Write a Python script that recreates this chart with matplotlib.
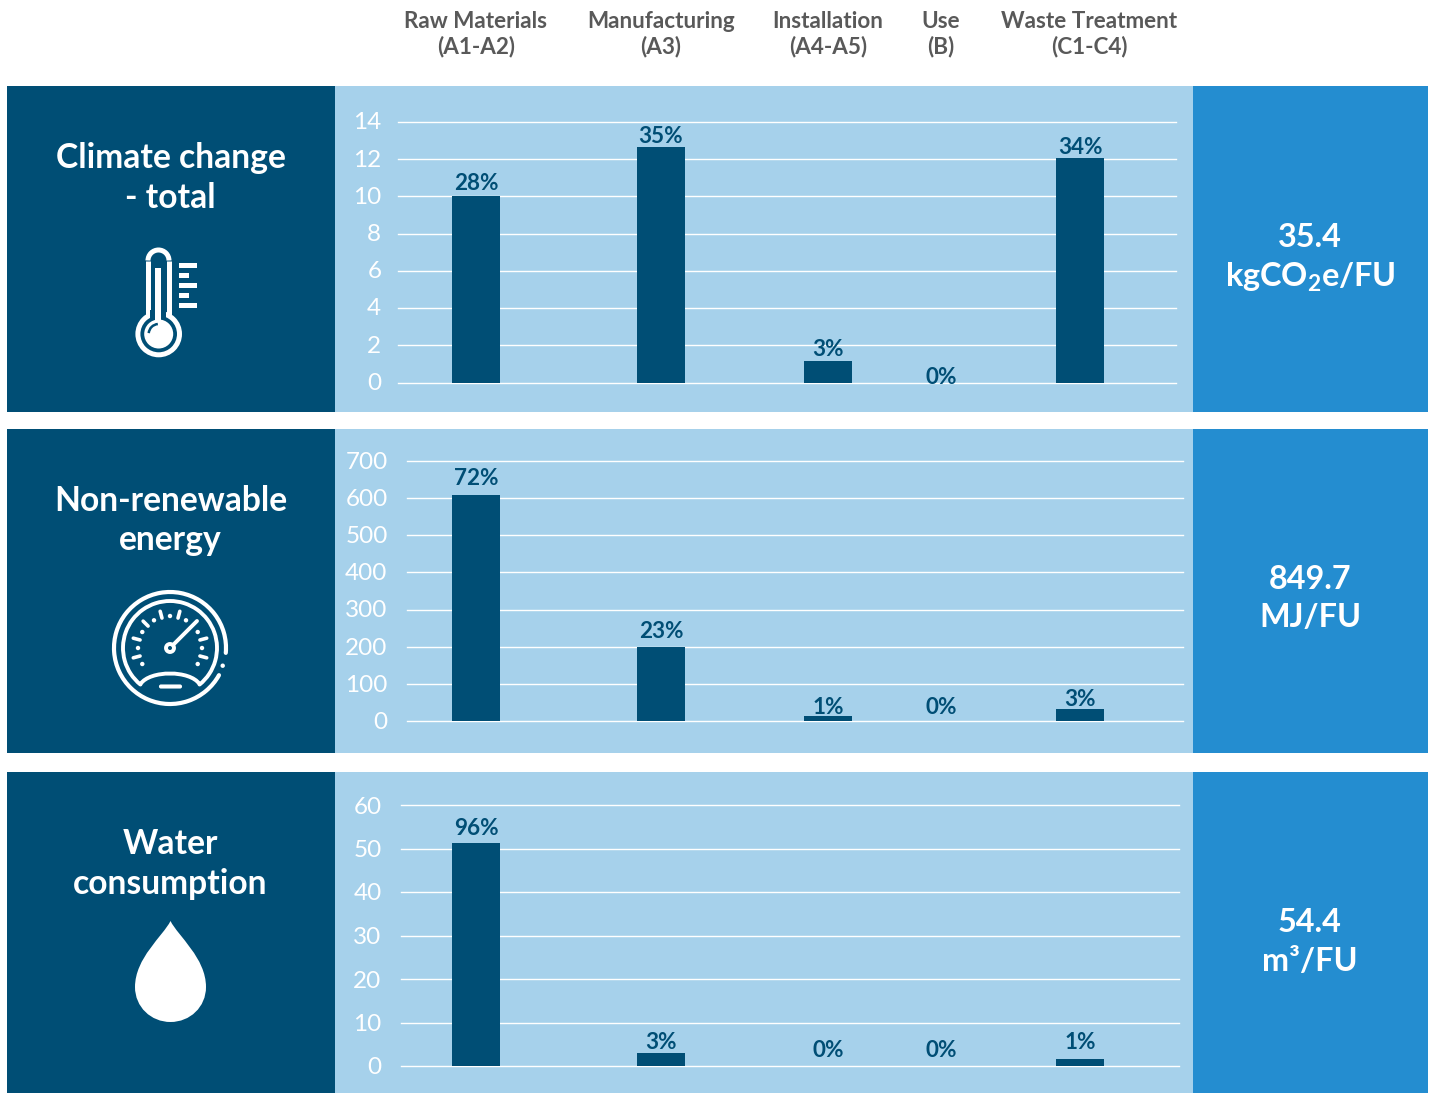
import matplotlib
matplotlib.use("Agg")
import matplotlib.pyplot as plt
import numpy as np
from matplotlib.patches import Rectangle, Circle, Arc, PathPatch, FancyBboxPatch
from matplotlib.path import Path
from matplotlib.transforms import ScaledTranslation

plt.rcParams['font.family'] = ['Lato', 'DejaVu Sans']
plt.rcParams['mathtext.default'] = 'regular'

# data
stages = ["Raw Materials\n(A1-A2)", "Manufacturing\n(A3)", "Installation\n(A4-A5)", "Use\n(B)", "Waste Treatment\n(C1-C4)"]
titles = ["Climate change\n- total", "Non-renewable\nenergy", "Water\nconsumption"]
totals = ["35.4\nkgCO$_2$e/FU", "849.7\nMJ/FU", "54.4\nm³/FU"]
climate_values = [10.0, 12.66, 1.15, 0, 12.07]
energy_values = [609, 200, 14, 0, 33]
water_values = [51.3, 3.0, 0, 0, 1.6]
climate_pct = ["28%", "35%", "3%", "0%", "34%"]
energy_pct = ["72%", "23%", "1%", "0%", "3%"]
water_pct = ["96%", "3%", "0%", "0%", "1%"]
climate_ticks = [0, 2, 4, 6, 8, 10, 12, 14]
energy_ticks = [0, 100, 200, 300, 400, 500, 600, 700]
water_ticks = [0, 10, 20, 30, 40, 50, 60]

W, H = 1433, 1093
DARK = "#004e75"
MID = "#248dd0"
LIGHT = "#a6d1eb"

# bar centres on the page, in pixels
bar_x = [476, 661, 828, 941, 1080]
header_x = [476, 661, 828, 941, 1089.5]
bar_w = 48

fig = plt.figure(figsize=(W / 100, H / 100), dpi=100, facecolor="white")

# page axes in pixel coords for the coloured blocks, icons and text
bg = fig.add_axes([0, 0, 1, 1])
bg.set_xlim(0, W)
bg.set_ylim(H, 0)
bg.axis("off")

rows = [(86, 412), (429, 753), (772, 1093)]
for top, bottom in rows:
    bg.add_patch(Rectangle((7, top), 328, bottom - top, fc=DARK, ec="none"))
    bg.add_patch(Rectangle((335, top), 858, bottom - top, fc=LIGHT, ec="none"))
    bg.add_patch(Rectangle((1193, top), 235, bottom - top, fc=MID, ec="none"))

for x, s in zip(header_x, stages):
    bg.text(x, 34, s, ha="center", va="center", fontsize=16.2, color="#595959",
            fontweight="bold", linespacing=1.22)

title_y = [178, 520.5, 864]
total_y = [258.5, 598.5, 942]
for t, ty, v, vy in zip(titles, title_y, totals, total_y):
    bg.text(170.5, ty, t, ha="center", va="center", fontsize=24.2, color="white",
            fontweight="bold", linespacing=1.27)
    bg.text(1310, vy, v, ha="center", va="center", fontsize=23.3, color="white",
            fontweight="bold", linespacing=1.38)


# icons -------------------------------------------------------------
def thermometer(ax):
    cx, cy = 158.7, 334
    # tube outline, then the bulb over it
    ax.add_patch(Arc((158.5, 260.5), 21, 21, theta1=180, theta2=360, color="white", lw=3.6))
    ax.plot([148, 148], [260.5, 315], color="white", lw=3.6, solid_capstyle="butt")
    ax.plot([169, 169], [260.5, 315], color="white", lw=3.6, solid_capstyle="butt")
    ax.add_patch(Circle((cx, cy), 20.8, fc=DARK, ec="white", lw=3.6, zorder=2))
    ax.add_patch(Rectangle((150.5, 310), 16, 8, fc=DARK, ec="none", zorder=2))
    ax.add_patch(Rectangle((155.5, 268), 6, 56, fc="white", ec="none", zorder=3))
    ax.add_patch(Circle((cx, cy), 14.5, fc="white", ec="none", zorder=3))
    ax.add_patch(Arc((cx, cy), 20, 20, theta1=185, theta2=265, color=DARK, lw=1.8, zorder=4))
    for y, x1 in zip([265.7, 275.7, 285.3, 295.5, 305.3], [197, 189, 197, 189, 197]):
        ax.add_patch(Rectangle((179, y - 2.4), x1 - 179, 4.8, fc="white", ec="none"))


def gauge(ax):
    cx, cy = 170, 648
    # angles run clockwise on screen since the y axis is inverted
    ax.add_patch(Arc((cx, cy), 112, 112, theta1=29, theta2=5, color="white", lw=3.0, capstyle="round"))
    ax.add_patch(Circle((222.7, 665.7), 2.2, fc="white", ec="none"))
    ax.add_patch(Arc((cx, cy), 94, 94, theta1=129, theta2=51, color="white", lw=2.8, capstyle="round"))
    verts = [(140.5, 684), (150, 670), (190, 670), (199.5, 684)]
    codes = [Path.MOVETO, Path.CURVE4, Path.CURVE4, Path.CURVE4]
    ax.add_patch(PathPatch(Path(verts, codes), fc="none", ec="white", lw=2.8, capstyle="round"))
    ax.add_patch(FancyBboxPatch((160, 685.5), 21, 2, boxstyle="round,pad=0,rounding_size=1", fc="white", ec="white", lw=1.5))
    ax.plot([cx + 3, 197], [cy - 3, 621], color="white", lw=2.8, solid_capstyle="round")
    ax.add_patch(Circle((cx, cy), 4, fc=DARK, ec="white", lw=2.8))
    for a in range(150, 391, 30):
        rad = np.radians(a)
        ax.add_patch(Circle((cx + 32 * np.cos(rad), cy + 32 * np.sin(rad)), 2.2, fc="white", ec="none"))
    for a in [165, 195, 225, 255, 285, 345, 15]:
        rad = np.radians(a)
        dx, dy = np.cos(rad), np.sin(rad)
        ax.plot([cx + 31 * dx, cx + 38 * dx], [cy + 31 * dy, cy + 38 * dy], color="white", lw=2.6, solid_capstyle="round")


def droplet(ax):
    verts = [(170.5, 921), (163, 936), (135, 958), (135, 987), (135, 1007), (151, 1022), (170.5, 1022),
             (190, 1022), (206, 1007), (206, 987), (206, 958), (178, 936), (170.5, 921)]
    codes = [Path.MOVETO] + [Path.CURVE4] * 12
    ax.add_patch(PathPatch(Path(verts, codes), fc="white", ec="none"))


thermometer(bg)
gauge(bg)
droplet(bg)


# charts ------------------------------------------------------------
def draw_chart(values, pct, ticks, px_left, px_right, px_top, px_zero, label_offsets, pad, tick_shift):
    ax = fig.add_axes([px_left / W, 1 - px_zero / H, (px_right - px_left) / W, (px_zero - px_top) / H])
    ax.patch.set_alpha(0)
    ax.set_xlim(px_left, px_right)
    ax.set_ylim(ticks[0], ticks[-1])
    ax.set_yticks(ticks)
    ax.tick_params(axis="y", length=0, labelsize=17.5, labelcolor="white", pad=pad)
    # tick numbers sit slightly above their grid line
    for lab in ax.get_yticklabels():
        lab.set_transform(lab.get_transform() + ScaledTranslation(0, tick_shift / 100, fig.dpi_scale_trans))
    ax.set_xticks([])
    for s in ax.spines.values():
        s.set_visible(False)
    ax.grid(axis="y", color="white", lw=1.0, clip_on=False)
    ax.set_axisbelow(True)
    ax.bar(bar_x, values, width=bar_w, color=DARK, zorder=3, clip_on=False)
    for x, v, p, off in zip(bar_x, values, pct, label_offsets):
        ax.annotate(p, (x, v), xytext=(0, off), textcoords="offset pixels", ha="center", va="center",
                    fontsize=16.2, fontweight="bold", color=DARK, zorder=4)
    return ax


draw_chart(climate_values, climate_pct, climate_ticks, 398, 1176, 122, 382.5, [13, 10, 12, 5, 10], 12, 1.2)
draw_chart(energy_values, energy_pct, energy_ticks, 407, 1183, 461, 721, [16, 15, 8, 13, 9], 14, 0.6)
draw_chart(water_values, water_pct, water_ticks, 401, 1179, 805, 1066, [14, 10, 15.5, 15.5, 16.5], 14, 0)

fig.savefig("out.png", dpi=100, facecolor="white")
